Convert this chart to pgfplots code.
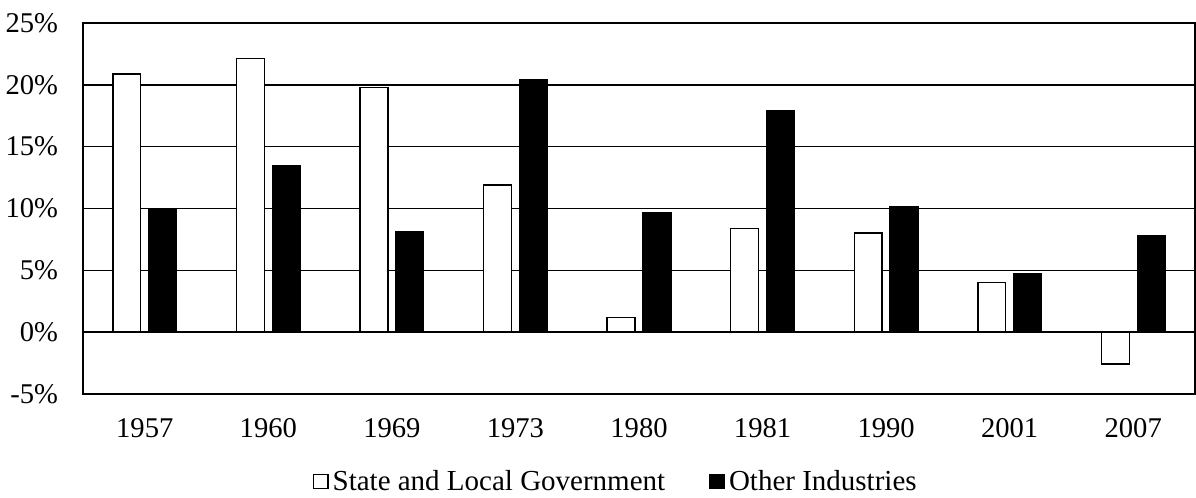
\documentclass[border=0pt]{standalone}
\usepackage{fontspec}
\setmainfont{Liberation Serif}
\usepackage{pgfplots}
\pgfplotsset{compat=1.18}
\begin{document}
\begin{tikzpicture}
\begin{axis}[
  name=ax,
  width=556pt, height=185.5pt, scale only axis,
  xmin=-0.5, xmax=8.5, ymin=-5, ymax=25,
  xtick={0,1,2,3,4,5,6,7,8},
  xticklabels={1957,1960,1969,1973,1980,1981,1990,2001,2007},
  ytick={-5,0,5,10,15,20,25},
  yticklabels={-5\%,0\%,5\%,10\%,15\%,20\%,25\%},
  major tick length=0pt,
  ymajorgrids, grid style={black, line width=0.75pt},
  axis line style={line width=0.75pt},
  tick label style={font=\fontsize{14.3}{16}\selectfont},
  xticklabel style={yshift=-8.5pt},
  yticklabel style={xshift=-9pt},
  legend style={at={(0.48,-0.236)}, anchor=center, draw=none,
    inner ysep=0pt, nodes={inner ysep=1pt},
    font=\fontsize{14.5}{16}\selectfont, legend columns=2,
    /tikz/every even column/.append style={column sep=20pt}},
  legend image code/.code={\draw[#1, line width=0.7pt] (0pt,-3.6pt) rectangle (7.2pt,3.6pt);},
]
\addplot[ybar, bar width=0.225, bar shift=-0.145, fill=white, draw=black, line width=0.7pt]
  coordinates {(0,20.86) (1,22.13) (2,19.8) (3,11.89) (4,1.19) (5,8.36) (6,8.03) (7,4.04) (8,-2.56)};
\addlegendentry{State and Local Government}
\addplot[ybar, bar width=0.225, bar shift=0.145, fill=black, draw=black, line width=0.7pt]
  coordinates {(0,9.97) (1,13.48) (2,8.11) (3,20.38) (4,9.70) (5,17.9) (6,10.16) (7,4.74) (8,7.84)};
\addlegendentry{Other Industries}
\end{axis}
\pgfresetboundingbox
\path (ax.south west) +(-41.5pt,-51.5pt) (ax.north east) +(0.5pt,11.5pt);
\end{tikzpicture}
\end{document}
